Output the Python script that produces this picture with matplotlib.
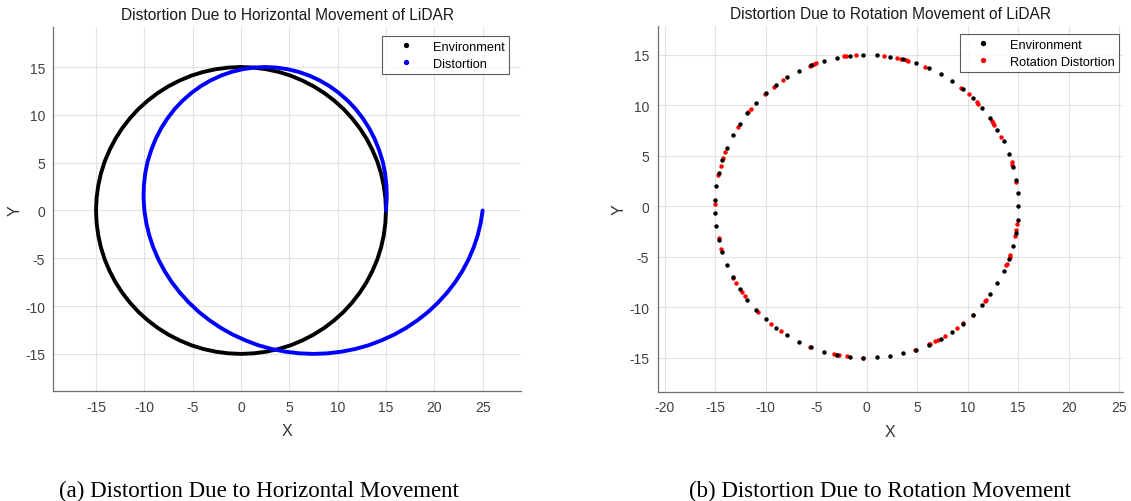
import numpy as np
import matplotlib
matplotlib.use("Agg")
from matplotlib import pyplot as plt
from matplotlib.lines import Line2D

plt.rcParams['font.family'] = ['Liberation Sans', 'DejaVu Sans']
plt.rcParams['axes.unicode_minus'] = False

# (a) environment circle (every 5 deg)
env_x = [15.0, 14.94, 14.77, 14.49, 14.10, 13.59, 12.99, 12.29, 11.49, 10.61,
         9.64, 8.60, 7.50, 6.34, 5.13, 3.88, 2.60, 1.31, 0.0,
         -1.31, -2.60, -3.88, -5.13, -6.34, -7.50, -8.60, -9.64, -10.61,
         -11.49, -12.29, -12.99, -13.59, -14.10, -14.49, -14.77, -14.94, -15.0,
         -14.94, -14.77, -14.49, -14.10, -13.59, -12.99, -12.29, -11.49, -10.61,
         -9.64, -8.60, -7.50, -6.34, -5.13, -3.88, -2.60, -1.31, 0.0,
         1.31, 2.60, 3.88, 5.13, 6.34, 7.50, 8.60, 9.64, 10.61,
         11.49, 12.29, 12.99, 13.59, 14.10, 14.49, 14.77, 14.94, 15.0]
env_y = [0.0, 1.31, 2.60, 3.88, 5.13, 6.34, 7.50, 8.60, 9.64, 10.61,
         11.49, 12.29, 12.99, 13.59, 14.10, 14.49, 14.77, 14.94, 15.0,
         14.94, 14.77, 14.49, 14.10, 13.59, 12.99, 12.29, 11.49, 10.61,
         9.64, 8.60, 7.50, 6.34, 5.13, 3.88, 2.60, 1.31, 0.0,
         -1.31, -2.60, -3.88, -5.13, -6.34, -7.50, -8.60, -9.64, -10.61,
         -11.49, -12.29, -12.99, -13.59, -14.10, -14.49, -14.77, -14.94, -15.0,
         -14.94, -14.77, -14.49, -14.10, -13.59, -12.99, -12.29, -11.49, -10.61,
         -9.64, -8.60, -7.50, -6.34, -5.13, -3.88, -2.60, -1.31, 0.0]

# (a) distorted scan (sensor moving along x while scanning)
dist_x = [15.00, 15.08, 15.05, 14.91, 14.66, 14.28, 13.82, 13.26, 12.60, 11.86,
          11.03, 10.13, 9.17, 8.15, 7.07, 5.96, 4.82, 3.67, 2.50,
          1.33, 0.18, -0.96, -2.07, -3.15, -4.17, -5.13, -6.03, -6.86,
          -7.60, -8.26, -8.82, -9.28, -9.66, -9.91, -10.05, -10.08, -10.00,
          -9.80, -9.49, -9.07, -8.54, -7.90, -7.16, -6.32, -5.38, -4.36,
          -3.25, -2.07, -0.83, 0.47, 1.81, 3.20, 4.62, 6.05, 7.50,
          8.95, 10.38, 11.80, 13.19, 14.53, 15.83, 17.07, 18.25, 19.36,
          20.38, 21.32, 22.16, 22.90, 23.54, 24.07, 24.49, 24.80, 25.00]
dist_y = list(env_y)

# (b) scan radius and angles (deg) of the dots
scan_radius = 15.0
env_angles = [0.0, 5.1, 10.1, 15.2, 20.3, 25.4, 30.4, 35.5, 40.6, 45.6,
              50.7, 55.8, 60.8, 65.9, 71.0, 76.1, 81.1, 86.2, 91.3, 96.3,
              101.4, 106.5, 111.5, 116.6, 121.7, 126.8, 131.8, 136.9, 142.0,
              147.0, 152.1, 157.2, 162.3, 167.3, 172.4, 177.5, 182.5, 187.6,
              192.7, 197.7, 202.8, 207.9, 213.0, 218.0, 223.1, 228.2, 233.2,
              238.3, 243.4, 248.5, 253.5, 258.6, 263.7, 268.7, 273.8, 278.9,
              284.0, 289.0, 294.1, 299.2, 304.2, 309.3, 314.4, 319.4, 324.5,
              329.6, 334.6, 339.7, 344.8, 349.9, 354.9]
rot_angles = [9.3, 16.0, 17.0, 27.3, 32.5, 33.3, 34.2, 42.6, 43.3, 47.7,
              51.6, 67.3, 74.0, 74.8, 76.7, 78.6, 83.6,
              94.0, 97.8, 98.6, 109.4, 110.2, 111.1, 111.9, 123.6, 127.9,
              132.2, 140.0, 141.4, 148.3, 159.2, 161.6, 164.6, 168.1, 179.2,
              192.1, 196.2, 208.1, 210.4, 214.5, 216.3, 224.0, 230.9, 235.5,
              248.1, 257.5, 258.6, 259.5, 262.5, 268.7,
              288.5, 294.2, 294.6, 296.9, 298.3, 301.2, 306.6, 309.6, 314.4,
              321.3, 321.8, 337.1, 337.5, 340.6, 341.2, 348.5, 351.0, 353.3]

left_xticks = [-15, -10, -5, 0, 5, 10, 15, 20, 25]
right_xticks = [-20, -15, -10, -5, 0, 5, 10, 15, 20, 25]
yticks = [-15, -10, -5, 0, 5, 10, 15]


def style_axes(ax, title, xticks):
    ax.set_title(title, fontsize=11.2, color='#1a1a1a', pad=6)
    ax.set_xlabel('X', fontsize=11.5, color='#333333', labelpad=7)
    ax.set_ylabel('Y', fontsize=11.5, color='#333333', labelpad=2)
    ax.set_xticks(xticks)
    ax.set_yticks(yticks)
    ax.tick_params(labelsize=10, colors='#404040', length=0, pad=6)
    for side in ('top', 'right'):
        ax.spines[side].set_visible(False)
    for side in ('left', 'bottom'):
        ax.spines[side].set_color('#6e6e6e')
        ax.spines[side].set_linewidth(0.9)
    ax.grid(True, color='#e3e3e3', linewidth=0.8)
    ax.set_axisbelow(True)


def dot_handle(color):
    return Line2D([], [], ls='none', marker='o', ms=2.8, color=color)


def add_legend(ax, colors, labels, anchor):
    leg = ax.legend([dot_handle(c) for c in colors], labels,
                    loc='upper right', bbox_to_anchor=anchor,
                    fontsize=9.2, fancybox=False, edgecolor='#333333',
                    handlelength=3.0, handletextpad=0.6, borderpad=0.35,
                    labelspacing=0.4, borderaxespad=0)
    leg.get_frame().set_linewidth(0.8)
    return leg


fig = plt.figure(figsize=(11.31, 5.02), dpi=100)

# left: horizontal movement
ax1 = fig.add_axes([0.0473, 0.2187, 0.4136, 0.7249])
ax1.plot(env_x, env_y, color='black', lw=2.8,
         solid_joinstyle='round', solid_capstyle='round')
ax1.plot(dist_x, dist_y, color='blue', lw=2.8,
         solid_joinstyle='round', solid_capstyle='round')
ax1.set_xlim(-19.4, 29.0)
ax1.set_ylim(-18.9, 19.15)
style_axes(ax1, 'Distortion Due to Horizontal Movement of LiDAR', left_xticks)
add_legend(ax1, ['black', 'blue'], ['Environment', 'Distortion'],
           (0.974, 0.976))

# right: rotation movement
ax2 = fig.add_axes([0.5814, 0.2177, 0.4117, 0.7283])
rot_rad = np.deg2rad(rot_angles)
env_rad = np.deg2rad(env_angles)
ax2.plot(scan_radius * np.cos(rot_rad), scan_radius * np.sin(rot_rad),
         ls='none', marker='o', ms=3.2, color='red', mew=0)
ax2.plot(scan_radius * np.cos(env_rad), scan_radius * np.sin(env_rad),
         ls='none', marker='o', ms=3.2, color='black', mew=0)
ax2.set_xlim(-20.7, 25.4)
ax2.set_ylim(-18.36, 17.84)
style_axes(ax2, 'Distortion Due to Rotation Movement of LiDAR', right_xticks)
add_legend(ax2, ['black', 'red'], ['Environment', 'Rotation Distortion'],
           (0.992, 0.978))

# captions under the panels
fig.text(259 / 1131, 1 - 491 / 502, '(a) Distortion Due to Horizontal Movement',
         family=['Liberation Serif', 'DejaVu Serif'], fontsize=16.5,
         ha='center', va='center')
fig.text(880 / 1131, 1 - 491 / 502, '(b) Distortion Due to Rotation Movement',
         family=['Liberation Serif', 'DejaVu Serif'], fontsize=16.5,
         ha='center', va='center')

fig.savefig('out.png', dpi=100)
